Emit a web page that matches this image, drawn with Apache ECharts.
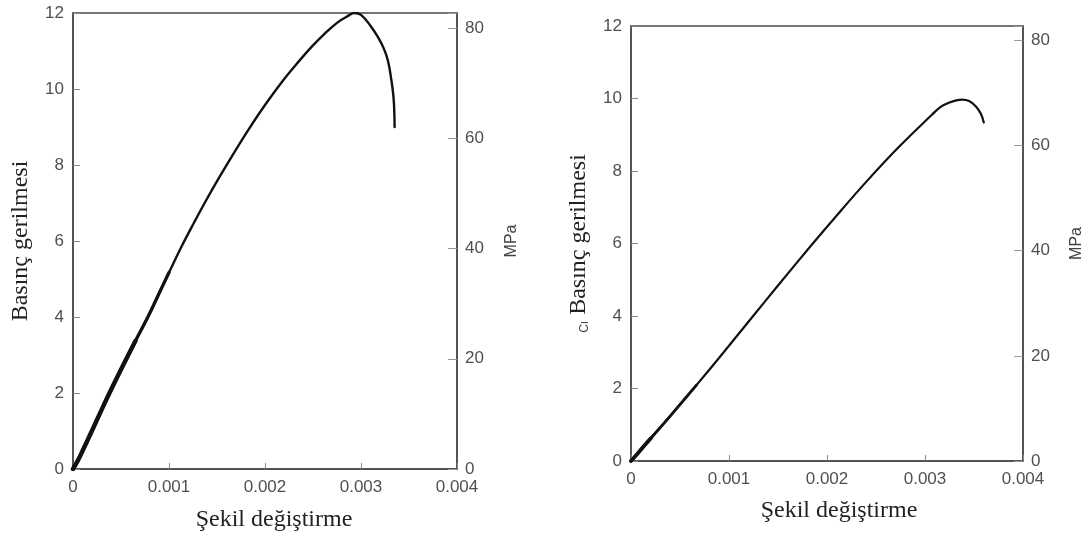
<!DOCTYPE html>
<html>
<head>
<meta charset="utf-8">
<style>
  html, body { margin: 0; padding: 0; background: #fff; }
  #chart { width: 1086px; height: 539px; }
</style>
<script src="https://cdn.jsdelivr.net/npm/echarts@6/dist/echarts.min.js"></script>
</head>
<body>
<div id="chart"></div>
<script>
// Stress–strain curves of two concrete specimens (stress in ksi, secondary scale in MPa)
const KSI_TO_MPA = 6.895;

// Left specimen
const leftStrain = [0, 0.00005, 0.0001, 0.0002, 0.0003, 0.00038, 0.0005, 0.00065, 0.00078, 0.0009,
  0.001, 0.00114, 0.00126, 0.00138, 0.00152, 0.00165, 0.00182, 0.002, 0.00218, 0.00235,
  0.00249, 0.00262, 0.00276, 0.00287, 0.00293, 0.003, 0.0031, 0.00318, 0.00324, 0.00328,
  0.00331, 0.00334, 0.00335];
const leftStress = [0, 0.22, 0.48, 1.02, 1.57, 2.0, 2.62, 3.37, 4.0, 4.64,
  5.17, 5.9, 6.48, 7.04, 7.66, 8.21, 8.9, 9.58, 10.2, 10.72,
  11.12, 11.45, 11.76, 11.93, 12.0, 11.95, 11.66, 11.35, 11.05, 10.75,
  10.34, 9.74, 9.0];

// Right specimen
const rightStrain = [0, 0.00005, 0.0001, 0.0002, 0.0004, 0.00067, 0.0009, 0.00124, 0.0015, 0.00184,
  0.00206, 0.0024, 0.00274, 0.00307, 0.00316, 0.00325, 0.00332, 0.00338, 0.00345, 0.00352,
  0.00357, 0.0036];
const rightStress = [0, 0.15, 0.31, 0.62, 1.24, 2.1, 2.85, 3.98, 4.84, 5.95,
  6.65, 7.7, 8.68, 9.55, 9.77, 9.89, 9.95, 9.97, 9.93, 9.78,
  9.58, 9.34];

// Axis ticks
const strainTicks = { min: 0, max: 0.004, interval: 0.001 };
const stressTicks = { min: 0, max: 12, interval: 2 };
const mpaTicks = { min: 0, interval: 20 };

const xName = 'Şekil değiştirme';
const yName = 'Basınç gerilmesi';
const mpaName = 'MPa';

const SERIF = '"Liberation Serif", "DejaVu Serif", serif';
const SANS = '"Liberation Sans", Arial, sans-serif';
const AXIS_COLOR = '#4a4a4a';
const LABEL_COLOR = '#505050';

function pairs(xs, ys) { return xs.map((x, i) => [x, ys[i]]); }

function strainAxis(gridIndex, nameGap, namePadding) {
  return {
    gridIndex, type: 'value',
    min: strainTicks.min, max: strainTicks.max, interval: strainTicks.interval,
    name: xName, nameLocation: 'middle', nameGap,
    nameTextStyle: { fontFamily: SERIF, fontSize: 24, color: '#222', padding: namePadding },
    axisLine: { show: true, lineStyle: { color: AXIS_COLOR, width: 1.5 } },
    axisTick: { show: true, inside: true, length: 6, lineStyle: { color: '#888' } },
    axisLabel: {
      fontFamily: SANS, fontSize: 17, color: LABEL_COLOR, margin: 10,
      formatter: v => (v === 0 ? '0' : v.toFixed(3))
    },
    splitLine: { show: false }
  };
}

function stressAxis(gridIndex, nameGap, name) {
  return {
    gridIndex, type: 'value', position: 'left',
    min: stressTicks.min, max: stressTicks.max, interval: stressTicks.interval,
    name, nameLocation: 'middle', nameGap, nameRotate: 90,
    nameTextStyle: {
      fontFamily: SERIF, fontSize: 24, color: '#222',
      rich: {
        c: { fontFamily: SANS, fontSize: 12, color: '#444', verticalAlign: 'bottom', padding: [0, 6, 0, 0] },
        t: { fontFamily: SERIF, fontSize: 24, color: '#222' }
      }
    },
    axisLine: { show: true, lineStyle: { color: AXIS_COLOR, width: 1.5 } },
    axisTick: { show: true, inside: true, length: 7, lineStyle: { color: '#888' } },
    axisLabel: { fontFamily: SANS, fontSize: 17, color: LABEL_COLOR, margin: 9 },
    splitLine: { show: false }
  };
}

function mpaAxis(gridIndex, nameGap) {
  return {
    gridIndex, type: 'value', position: 'right',
    min: mpaTicks.min, max: stressTicks.max * KSI_TO_MPA, interval: mpaTicks.interval,
    name: mpaName, nameLocation: 'middle', nameGap, nameRotate: 90,
    nameTextStyle: { fontFamily: SANS, fontSize: 16, color: '#444' },
    axisLine: { show: true, lineStyle: { color: AXIS_COLOR, width: 1.5 } },
    axisTick: { show: true, inside: true, length: 9, lineStyle: { color: '#999' } },
    axisLabel: {
      fontFamily: SANS, fontSize: 17, color: LABEL_COLOR, margin: 8,
      formatter: v => (v % mpaTicks.interval === 0 ? String(v) : '')
    },
    splitLine: { show: false }
  };
}

function curve(name, xi, yi, data, width) {
  return {
    name, type: 'line', xAxisIndex: xi, yAxisIndex: yi, data,
    showSymbol: false, smooth: 0.4, smoothMonotone: null,
    lineStyle: { color: '#111', width, cap: 'round', join: 'round' },
    z: 3, animation: false
  };
}

const leftData = pairs(leftStrain, leftStress);
const rightData = pairs(rightStrain, rightStress);

const chart = echarts.init(document.getElementById('chart'), null, { renderer: 'canvas' });
chart.setOption({
  backgroundColor: '#fff',
  animation: false,
  grid: [
    { left: 73, top: 13, width: 384, height: 456, show: true, borderColor: AXIS_COLOR, borderWidth: 1.5, backgroundColor: 'transparent' },
    { left: 631, top: 26, width: 393, height: 435, show: true, borderColor: AXIS_COLOR, borderWidth: 1.5, backgroundColor: 'transparent' }
  ],
  xAxis: [
    strainAxis(0, 39, [0, 0, 0, 18]),
    strainAxis(1, 38, [0, 0, 0, 24])
  ],
  yAxis: [
    stressAxis(0, 40, yName),
    mpaAxis(0, 47),
    stressAxis(1, 40, '{c|Cı}{t|' + yName + '}'),
    mpaAxis(1, 46)
  ],
  series: [
    curve('left', 0, 0, leftData, 2.4),
    // the noisier early loading branch is drawn heavier, tapering off
    curve('left-initial-a', 0, 0, leftData.filter(p => p[1] <= 5.2), 3.3),
    curve('left-initial-b', 0, 0, leftData.filter(p => p[1] <= 3.4), 4.4),
    curve('right', 1, 2, rightData, 2.2),
    curve('right-initial-a', 1, 2, rightData.filter(p => p[1] <= 2.1), 2.8),
    curve('right-initial-b', 1, 2, rightData.filter(p => p[1] <= 0.7), 3.8)
  ]
});
</script>
</body>
</html>
